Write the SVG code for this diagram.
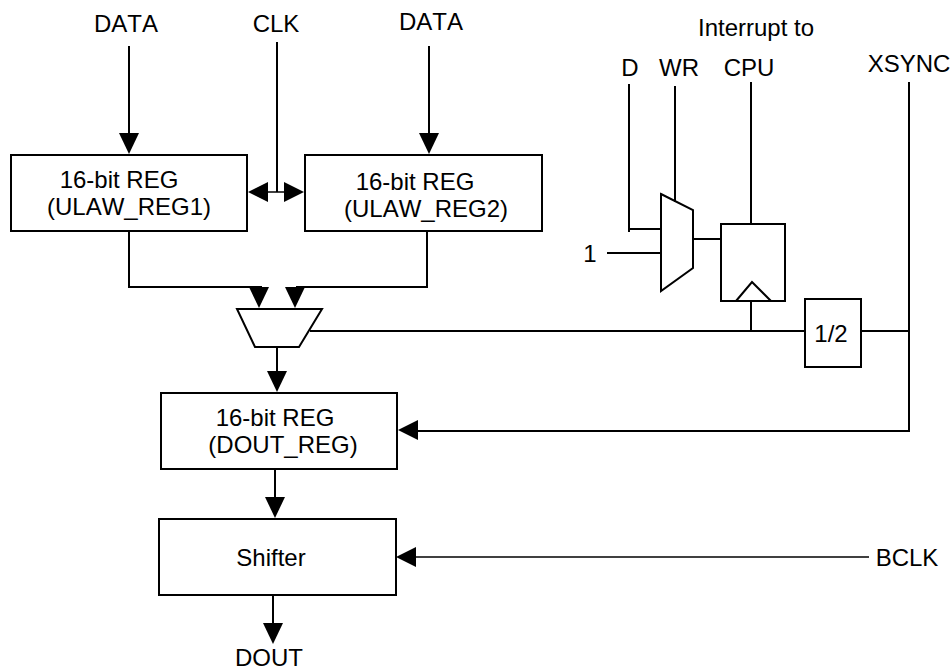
<svg xmlns="http://www.w3.org/2000/svg" width="951" height="672" viewBox="0 0 951 672">
<style>
.s{fill:none;stroke:#000;stroke-width:2}
.t{fill:none;stroke:#000;stroke-width:1.5}
.a{fill:#000;stroke:none}
text{font-family:"Liberation Sans",Arial,sans-serif;font-size:24px;fill:#000;text-anchor:middle;font-kerning:none}
</style>
<defs>
<polygon id="ad" class="a" points="-10,-21 10,-21 0,0"/>
<polygon id="al" class="a" points="0,0 20,-10 20,10"/>
<polygon id="ar" class="a" points="0,0 -20,-10 -20,10"/>
</defs>
<rect width="951" height="672" fill="#fff"/>
<g id="connectors">
<path class="s" d="M129 46V134"/><use href="#ad" x="129" y="154"/>
<path class="s" d="M277 42V192"/><path class="t" d="M268 192H284"/><use href="#al" x="248" y="192"/><use href="#ar" x="304" y="192"/>
<path class="s" d="M429 46V134"/><use href="#ad" x="429" y="154"/>
<path class="s" d="M129 231V287H262"/><path class="s" d="M427 231V287H296"/>
<use href="#ad" x="259" y="308"/><use href="#ad" x="295" y="308"/>
<path class="s" d="M277 347V372"/><use href="#ad" x="277" y="392"/>
<path class="s" d="M275 469V498"/><use href="#ad" x="275" y="518"/>
<path class="s" d="M273 595V624"/><use href="#ad" x="273" y="644"/>
<path class="s" d="M310 331H805M861 331H909"/>
<path class="s" d="M751 301V331"/>
<path class="s" d="M909 82V431H418"/><use href="#al" x="398" y="430"/>
<path class="t" d="M416 557H869"/><use href="#al" x="396" y="557"/>
<path class="s" d="M629 84V232M629 229H661"/>
<path class="s" d="M675 86V202"/>
<path class="s" d="M607 253H661"/>
<path class="s" d="M693 239H721"/>
<path class="s" d="M751 82V224"/>
</g>
<g id="reg1"><rect class="s" x="11" y="155" width="236" height="76"/><text x="119" y="188">16-bit REG</text><text x="129" y="215">(ULAW_REG1)</text></g>
<g id="reg2"><rect class="s" x="305" y="155" width="237" height="76"/><text x="415" y="190">16-bit REG</text><text x="426" y="217">(ULAW_REG2)</text></g>
<g id="mux1"><polygon class="s" points="237,309 322,309 299,347 255,347"/></g>
<g id="mux2"><polygon class="s" points="661,194 693,210 693,268 661,291"/></g>
<g id="ff"><rect class="s" x="721" y="224" width="64" height="77"/><path class="s" d="M736 301L752 282L771 301"/></g>
<g id="div"><rect class="s" x="805" y="299" width="56" height="68"/><text x="831" y="342">1/2</text></g>
<g id="reg3"><rect class="s" x="161" y="393" width="236" height="76"/><text x="275" y="426">16-bit REG</text><text x="283" y="453">(DOUT_REG)</text></g>
<g id="shifter"><rect class="s" x="159" y="519" width="237" height="76"/><text x="271" y="566">Shifter</text></g>
<g id="labels">
<text x="126" y="32">DATA</text>
<text x="276" y="32">CLK</text>
<text x="431" y="30">DATA</text>
<text x="756" y="36">Interrupt to</text>
<text x="630" y="76">D</text>
<text x="679" y="76">WR</text>
<text x="749" y="76">CPU</text>
<text x="909" y="72">XSYNC</text>
<text x="590" y="262">1</text>
<text x="907" y="566">BCLK</text>
<text x="269" y="666">DOUT</text>
</g>
</svg>
